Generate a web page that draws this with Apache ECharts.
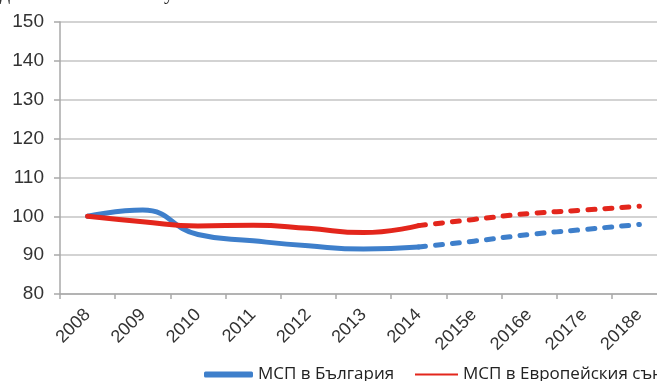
<!DOCTYPE html>
<html>
<head>
<meta charset="utf-8">
<script src="https://cdn.jsdelivr.net/npm/echarts@6/dist/echarts.min.js"></script>
<style>
  html, body { margin: 0; padding: 0; background: #fff; overflow: hidden; }
  #chart { width: 700px; height: 381px; }
</style>
</head>
<body>
<div id="chart"></div>
<script>
// Years and forecast years (suffix "e")
const years = ['2008', '2009', '2010', '2011', '2012', '2013', '2014', '2015e', '2016e', '2017e', '2018e'];

// Index, 2008 = 100. Actual values through 2014, estimates afterwards.
const bgActual   = [100, 101.6, 95.3, 93.7, 92.4, 91.6, 92.1, null, null, null, null];
const bgForecast = [null, null, null, null, null, null, 92.1, 93.6, 95.3, 96.6, 97.9];
const euActual   = [100, 98.6, 97.5, 97.7, 96.9, 95.8, 97.6, null, null, null, null];
const euForecast = [null, null, null, null, null, null, 97.6, 99.2, 100.7, 101.6, 102.6];

const bgName = 'МСП в България';
const euName = 'МСП в Европейския съюз';
const yTicks = [80, 90, 100, 110, 120, 130, 140, 150];

const BLUE = '#3e7fcb';
const RED = '#e3261c';
const DASH = [7, 10];

const legendText = { fontFamily: '"Open Sans", sans-serif', fontSize: 17, color: '#222' };

const chart = echarts.init(document.getElementById('chart'), null, { renderer: 'canvas' });

chart.setOption({
  animation: false,
  backgroundColor: '#fff',
  graphic: [{
    type: 'text',
    left: 0,
    top: -16,
    style: {
      text: 'добавена стойност у',
      font: '20px "Liberation Serif", serif',
      fill: '#222'
    }
  }],
  legend: [
    {
      left: 204, top: 366, padding: 0,
      icon: 'roundRect', itemWidth: 49, itemHeight: 6, itemGap: 4,
      textStyle: legendText,
      data: [bgName]
    },
    {
      left: 415, top: 366, padding: 0,
      icon: 'rect', itemWidth: 43, itemHeight: 2, itemGap: 4,
      textStyle: legendText,
      data: [euName]
    }
  ],
  grid: { left: 60, right: 33, top: 22, bottom: 87, containLabel: false },
  xAxis: {
    type: 'category',
    data: years,
    boundaryGap: true,
    axisLine: { show: true, lineStyle: { color: '#a9a9a9', width: 1.5 } },
    axisTick: { show: true, alignWithLabel: false, length: 5, lineStyle: { color: '#a9a9a9', width: 1.5 } },
    axisLabel: {
      rotate: 45,
      interval: 0,
      margin: 18,
      fontFamily: '"Liberation Sans", Arial, sans-serif',
      fontSize: 18,
      color: '#333'
    },
    splitLine: { show: false }
  },
  yAxis: {
    type: 'value',
    min: yTicks[0],
    max: yTicks[yTicks.length - 1],
    interval: 10,
    axisLine: { show: true, lineStyle: { color: '#a9a9a9', width: 1.5 } },
    axisTick: { show: true, length: 6, lineStyle: { color: '#a9a9a9', width: 1.5 } },
    axisLabel: {
      margin: 16,
      fontFamily: '"Liberation Sans", Arial, sans-serif',
      fontSize: 19,
      color: '#333'
    },
    splitLine: { show: true, lineStyle: { color: '#c4c4c4', width: 1.5 } }
  },
  series: [
    {
      name: bgName, type: 'line', data: bgActual, smooth: 0.5, symbol: 'none',
      lineStyle: { color: BLUE, width: 5, cap: 'round' }, itemStyle: { color: BLUE }, z: 3
    },
    {
      name: euName, type: 'line', data: euActual, smooth: 0.5, symbol: 'none',
      lineStyle: { color: RED, width: 5, cap: 'round' }, itemStyle: { color: RED }, z: 4
    },
    {
      name: bgName + ' (прогноза)', type: 'line', data: bgForecast, smooth: 0.5, symbol: 'none',
      lineStyle: { color: BLUE, width: 5, type: DASH, cap: 'round' }, itemStyle: { color: BLUE }, z: 3
    },
    {
      name: euName + ' (прогноза)', type: 'line', data: euForecast, smooth: 0.5, symbol: 'none',
      lineStyle: { color: RED, width: 5, type: DASH, cap: 'round' }, itemStyle: { color: RED }, z: 4
    }
  ]
});
</script>
</body>
</html>
